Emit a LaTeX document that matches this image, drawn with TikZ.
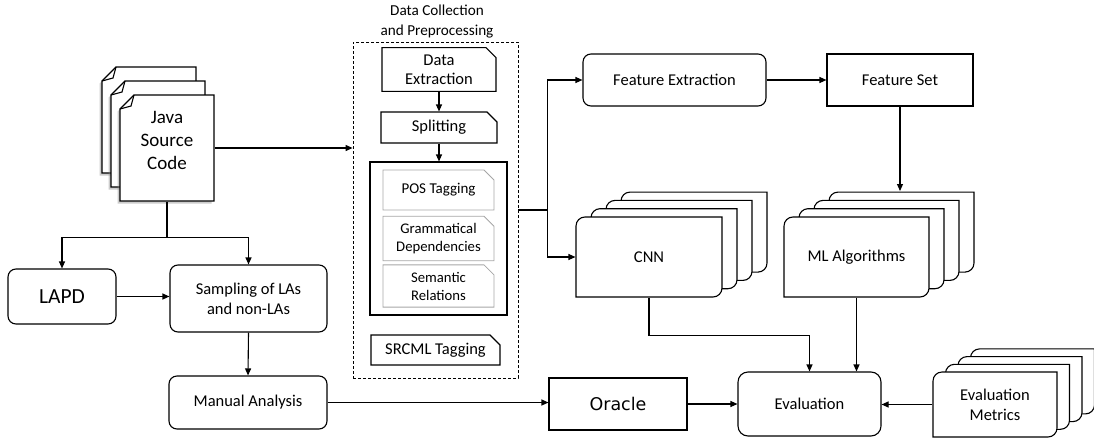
\documentclass[tikz,border=0pt]{standalone}
\usepackage{fontspec}
\setmainfont{Carlito}
\newfontfamily\oraclefont{DejaVu Sans}
\usetikzlibrary{arrows.meta,shapes.misc,shadows}

\newcommand{\fsz}[2]{\fontsize{#1}{#2}\selectfont}

% page with a folded corner (x1, y1, x2, y2)
\newcommand{\docpage}[4]{%
  \filldraw[fill=white,drop shadow={shadow xshift=-2.5pt,shadow yshift=-2.5pt,opacity=0.4}]
    ({#1+14},#2) -- (#3,#2) -- (#3,#4) -- (#1,#4) -- (#1,{#2+14}) -- cycle;
  \draw ({#1+14},#2) -- ({#1+11},{#2+11}) -- (#1,{#2+14});}

% card with rounded top-left and bottom-right corners (x1, y1, x2, y2)
\newcommand{\card}[4]{%
  \filldraw[fill=white] (#1,#4) -- ({#3-9},#4) arc[start angle=90,end angle=0,radius=9]
    -- (#3,#2) -- ({#1+9},#2) arc[start angle=270,end angle=180,radius=9] -- cycle;}

% four cards, front one centred at (cx, cy), size w x h, offset dx, dy
\newcommand{\cardstack}[6]{%
  \foreach \k in {3,2,1,0} {
    \card{#1-#3/2+\k*#5}{#2-#4/2-\k*#6}{#1+#3/2+\k*#5}{#2+#4/2-\k*#6}
  }}

\begin{document}
\begin{tikzpicture}[x=1pt, y=-1pt, line width=1.1pt,
    >={Triangle[length=7pt,width=6pt]},
    every node/.style={align=center, inner sep=2pt, font=\fsz{16.5}{20}},
    rbox/.style={draw, rounded corners=8pt, fill=white},
    sbox/.style={draw, fill=white},
    tagbox/.style={draw, chamfered rectangle, chamfered rectangle corners=north east,
        chamfered rectangle xsep=5pt, chamfered rectangle ysep=5pt},
    nlptag/.style={tagbox, draw=gray!70, line width=0.8pt, minimum width=111}]
    \useasboundingbox (0,0) rectangle (1094,439);

    % Java source code
    \foreach \dx/\dy in {18/28, 9/14, 0/0} {
        \docpage{120-\dx}{95-\dy}{214-\dx}{201-\dy}
    }
    \node[font=\fsz{19}{23}, text depth=16pt, minimum width=94, minimum height=106] (java) at (167,148) {Java\\Source\\Code};

    % left column
    \node[rbox, font=\fsz{21.5}{24}, minimum width=108, minimum height=55] (lapd) at (62,296.5) {LAPD};
    \node[rbox, minimum width=157, minimum height=67] (samp) at (248.5,298.5) {Sampling of LAs\\and non-LAs};
    \node[rbox, minimum width=158, minimum height=53] (man) at (248,402.5) {Manual Analysis};

    % data collection and preprocessing
    \node[font=\fsz{15.2}{20}] (dcptitle) at (437,22) {Data Collection\\and Preprocessing};
    \node[draw, dash pattern=on 3pt off 2pt, line width=0.8pt, minimum width=165, minimum height=336] (dcp) at (435.5,210) {};
    \node[tagbox, font=\fsz{16.5}{19}, minimum width=114, minimum height=39] (dext) at (439,69.5) {Data\\Extraction};
    \node[tagbox, minimum width=116, minimum height=31] (split) at (439,127.5) {Splitting};
    \node[draw, minimum width=137, minimum height=153] (nlp) at (438.5,238.5) {};
    \node[nlptag, font=\fsz{15}{18}, minimum height=40] (pos) at (438.5,190) {POS Tagging};
    \node[nlptag, font=\fsz{14.7}{18}, minimum height=41] (gram) at (438.5,238.5) {Grammatical\\Dependencies};
    \node[nlptag, font=\fsz{14.7}{18}, minimum height=40] (sem) at (438.5,286) {Semantic\\Relations};
    \node[tagbox, minimum width=129, minimum height=30] (srcml) at (435.5,350) {SRCML Tagging};

    % features and models
    \node[rbox, minimum width=183, minimum height=52] (fe) at (674.5,80) {Feature Extraction};
    \node[sbox, minimum width=146, minimum height=52] (fs) at (900,80) {Feature Set};
    \cardstack{649}{257}{146}{80}{15}{8.3}
    \node[minimum width=146, minimum height=80] (cnn) at (649,257) {CNN};
    \cardstack{856.5}{257}{145}{80}{15}{8.3}
    \node[minimum width=145, minimum height=80] (ml) at (856.5,257) {ML Algorithms};
    \coordinate (mltop) at (900,191);

    % evaluation
    \node[sbox, font=\oraclefont\fsz{17.5}{20}, minimum width=138, minimum height=52] (oracle) at (618,404) {Oracle};
    \node[rbox, rounded corners=10pt, minimum width=143, minimum height=64] (eval) at (809.5,404) {Evaluation};
    \cardstack{995}{404.5}{124}{65}{12.5}{7.7}
    \node[minimum width=124, minimum height=65] (em) at (995,404.5) {Evaluation\\Metrics};

    % connectors
    \draw[->] (java.east) -- (java.east -| dcp.west);
    \draw (java.south) -- ++(0,36) coordinate (jsplit);
    \draw[->] (jsplit) -| (lapd.north);
    \draw[->] (jsplit) -| (samp.north);
    \draw[->] (lapd.east) -- (lapd.east -| samp.west);
    \draw[->] (samp.south) -- (man.north);
    \draw[->] (man.east) -- (man.east -| oracle.west);
    \draw[->] (oracle.east) -- (oracle.east -| eval.west);
    \draw[->] (em.west) -- (em.west -| eval.east);

    \draw[->] (dext.south) -- (split.north);
    \draw[->] (split.south) -- (split.south |- nlp.north);
    \draw (dcp.east) -- ++(29,0) coordinate (hub);
    \draw[->] (hub) |- (fe.west);
    \draw[->] (hub) |- (cnn.west);

    \draw[->] (fe.east) -- (fs.west);
    \draw[->] (fs.south) -- (mltop);
    \draw[->] (cnn.south) -- ++(0,38) -| (eval.north);
    \draw[->] (ml.south) -- (ml.south |- eval.north);
\end{tikzpicture}
\end{document}
